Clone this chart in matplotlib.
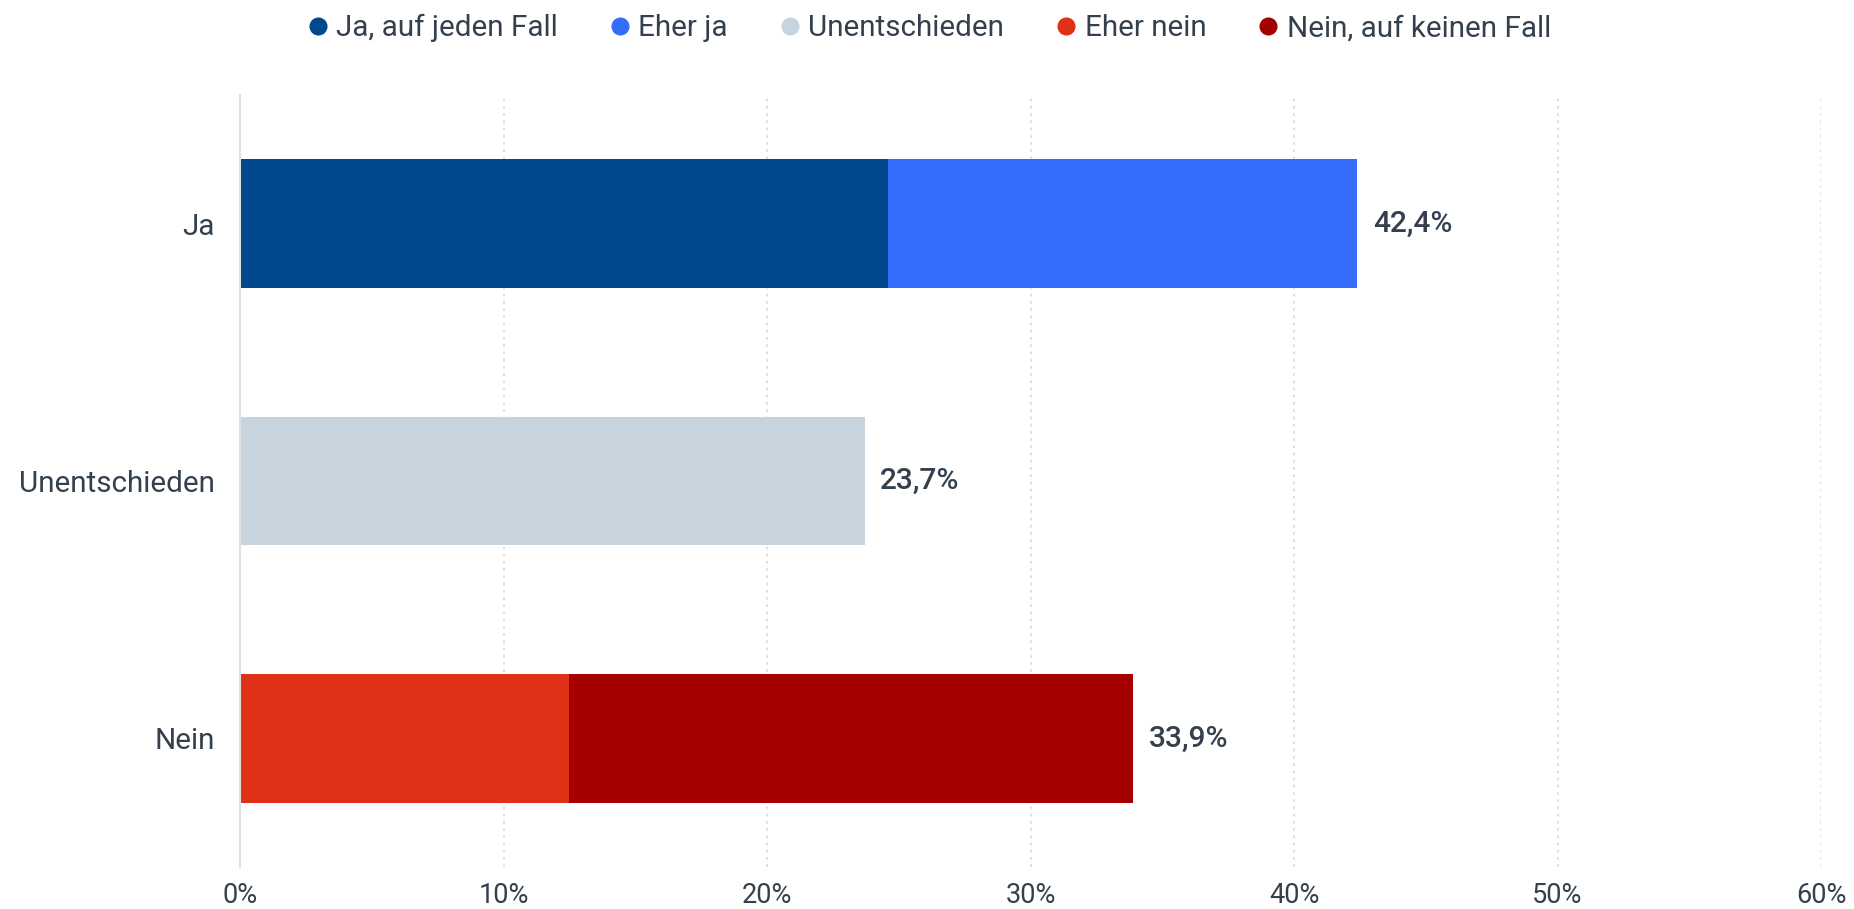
import numpy as np
import matplotlib.pyplot as plt
from matplotlib.lines import Line2D

plt.rcParams['font.family'] = ['Roboto', 'DejaVu Sans']

categories = ['Ja', 'Unentschieden', 'Nein']
series_names = ['Ja, auf jeden Fall', 'Eher ja', 'Unentschieden', 'Eher nein', 'Nein, auf keinen Fall']
# value per series for each category (0 where the series is not in that bar)
series_values = [
    [24.6, 0.0, 0.0],   # Ja, auf jeden Fall
    [17.8, 0.0, 0.0],   # Eher ja
    [0.0, 23.7, 0.0],   # Unentschieden
    [0.0, 0.0, 12.5],   # Eher nein
    [0.0, 0.0, 21.4],   # Nein, auf keinen Fall
]
colors = ['#00498d', '#336dfa', '#c8d4dd', '#e03016', '#a50000']
x_ticks = [0, 10, 20, 30, 40, 50, 60]

text_col = '#34404e'

fig = plt.figure(figsize=(18.54, 9.09), dpi=100)
ax = fig.add_axes([0.1295, 0.0462, 0.8527, 0.8493])

y = np.arange(len(categories))
left = np.zeros(len(categories))
for name, vals, c in zip(series_names, series_values, colors):
    vals = np.array(vals)
    ax.barh(y, vals, left=left, height=0.5, color=c, zorder=3)
    left = left + vals

# total labels
for yi, tot in zip(y, left):
    ax.text(tot + 0.6, yi, f'{tot:.1f}%'.replace('.', ','),
            va='center', ha='left', fontsize=21.5, fontweight='medium', color=text_col)

ax.set_xlim(0, 60)
ax.set_ylim(2.5, -0.5)
ax.set_yticks(y)
ax.set_yticklabels(categories)
ax.set_xticks(x_ticks)
ax.set_xticklabels([f'{t}%' for t in x_ticks])
ax.tick_params(axis='both', length=0, labelsize=19.5, colors=text_col)
ax.tick_params(axis='y', pad=18.5, labelsize=21.3)
ax.tick_params(axis='x', pad=10.5)

ax.grid(axis='x', linestyle=(0, (1.5, 2.5)), color='#dcdcdc', linewidth=1.3, zorder=0)
ax.grid(axis='y', visible=False)
for s in ['top', 'right', 'bottom']:
    ax.spines[s].set_visible(False)
ax.spines['left'].set_color('#e0e0e0')
ax.spines['left'].set_linewidth(1.5)
ax.spines['left'].set_zorder(4)

handles = [Line2D([0], [0], marker='o', linestyle='', markersize=12,
                  markerfacecolor=c, markeredgecolor=c) for c in colors]
leg = fig.legend(handles, series_names, loc='center', bbox_to_anchor=(0.5, 1 - 28 / 909),
                 ncol=5, frameon=False, fontsize=21.3, handletextpad=0.12,
                 columnspacing=1.6, handlelength=1.0)
for t in leg.get_texts():
    t.set_color(text_col)

fig.savefig('out.png', dpi=100)
